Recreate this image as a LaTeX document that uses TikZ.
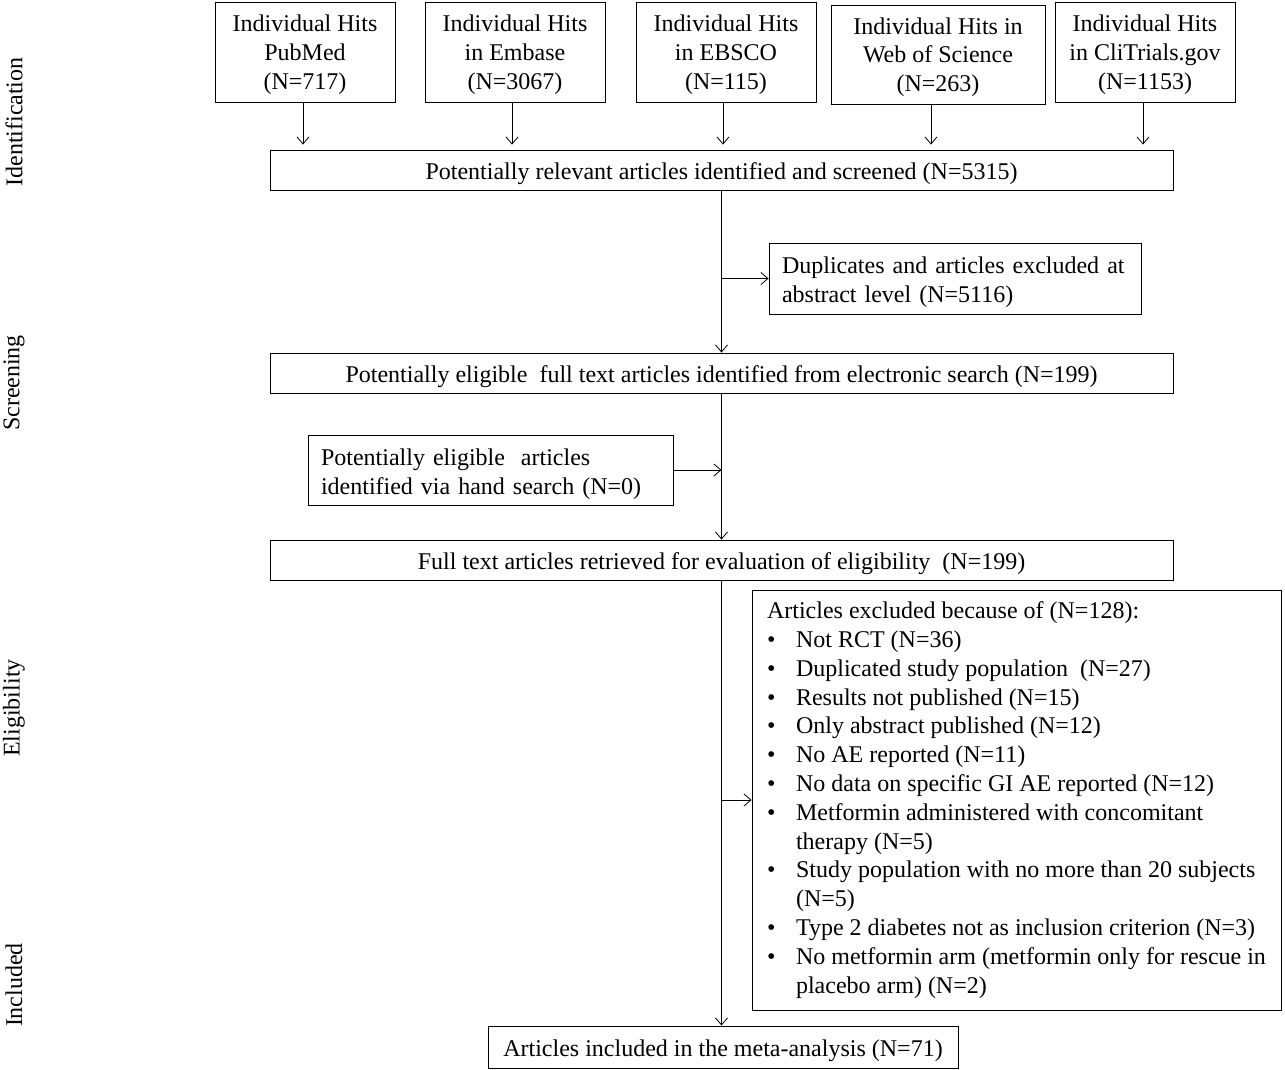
\documentclass[tikz,border=0pt]{standalone}
\usepackage{fontspec}
\setmainfont{Liberation Serif}
\usetikzlibrary{arrows.meta}
\newcommand\fs{\fontsize{24}{28.8}\selectfont}
\newcommand\bl{\makebox[29pt][l]{\textbullet}}
\newcommand\ind{\hspace*{29pt}}
\newcommand\tstrut{\rule{0pt}{24.5pt}}
\begin{document}
\begin{tikzpicture}[x=1pt,y=-1pt,
  box/.style={draw, line width=0.9pt, inner sep=0pt, font=\fs, align=center, execute at begin node=\tstrut},
  srcbox/.style={draw, line width=0.9pt, inner sep=0pt, font=\fs, align=center, text depth=0pt},
  lbox/.style={box, align=left, inner xsep=13pt},
  listbox/.style={draw, line width=0.9pt, inner sep=0pt, font=\fs, align=left},
  arr/.style={line width=0.8pt, -{Straight Barb[length=7pt,width=12pt]}},
  side/.style={rotate=90, font=\fs}]
\useasboundingbox (0,0) rectangle (1285,1069);
\fill[white] (0,0) rectangle (1285,1069);
% side labels
\node[side] (l1) at (14,122) {Identification};
\node[side] (l2) at (14,383) {Screening};
\node[side] (l3) at (14,708) {Eligibility};
\node[side] (l4) at (14,985) {Included};
% source boxes
\node[srcbox, minimum width=180, minimum height=100] (b1) at (305,52) {Individual Hits\\PubMed\\(N=717)};
\node[srcbox, minimum width=180, minimum height=100] (b2) at (515,52) {Individual Hits\\in Embase\\(N=3067)};
\node[srcbox, minimum width=180, minimum height=100] (b3) at (726,52) {Individual Hits\\in EBSCO\\(N=115)};
\node[srcbox, minimum width=214, minimum height=99] (b4) at (938,54.5) {Individual Hits in\\Web of Science\\(N=263)};
\node[srcbox, minimum width=180, minimum height=100] (b5) at (1145,52) {Individual Hits\\in CliTrials.gov\\(N=1153)};
% main flow
\node[box, minimum width=903, minimum height=40] (A) at (721.5,170) {Potentially relevant articles identified and screened (N=5315)};
\node[lbox, text width=346, minimum height=71] (D) at (955,278.5) {Duplicates and articles excluded at\\abstract level (N=5116)};
\node[box, minimum width=903, minimum height=40] (C) at (721.5,373) {Potentially eligible~ full text articles identified from electronic search (N=199)};
\node[lbox, text width=339, minimum height=70] (H) at (490.5,470) {Potentially eligible~ articles\\identified via hand search (N=0)};
\node[box, minimum width=903, minimum height=40] (E) at (721.5,560) {Full text articles retrieved for evaluation of eligibility~ (N=199)};
\node[listbox, minimum width=529, minimum height=420] (G) at (1016.5,800) {Articles excluded because of (N=128):\\
\bl Not RCT (N=36)\\
\bl Duplicated study population~ (N=27)\\
\bl Results not published (N=15)\\
\bl Only abstract published (N=12)\\
\bl No AE reported (N=11)\\
\bl No data on specific GI AE reported (N=12)\\
\bl Metformin administered with concomitant\\
\ind therapy (N=5)\\
\bl Study population with no more than 20 subjects\\
\ind (N=5)\\
\bl Type 2 diabetes not as inclusion criterion (N=3)\\
\bl No metformin arm (metformin only for rescue in\\
\ind placebo arm) (N=2)};
\node[box, minimum width=470, minimum height=42] (F) at (723,1047) {Articles included in the meta-analysis (N=71)};
% connectors
\foreach \b/\dx in {b1/-2,b2/-3,b3/-3,b4/-7,b5/-2}
  \draw[arr, shorten >=5pt] ([xshift=\dx pt]\b.south) -- ([xshift=\dx pt]\b.south |- A.north);
\draw[arr] (A.south) -- (C.north);
\draw[arr] (A.south |- D.west) -- (D.west);
\draw[arr] (C.south) -- (E.north);
\draw[arr] (H.east) -- (H.east -| C.south);
\draw[arr] (E.south) -- (E.south |- F.north);
\draw[arr] (E.south |- G.west) -- (G.west);
\end{tikzpicture}
\end{document}
